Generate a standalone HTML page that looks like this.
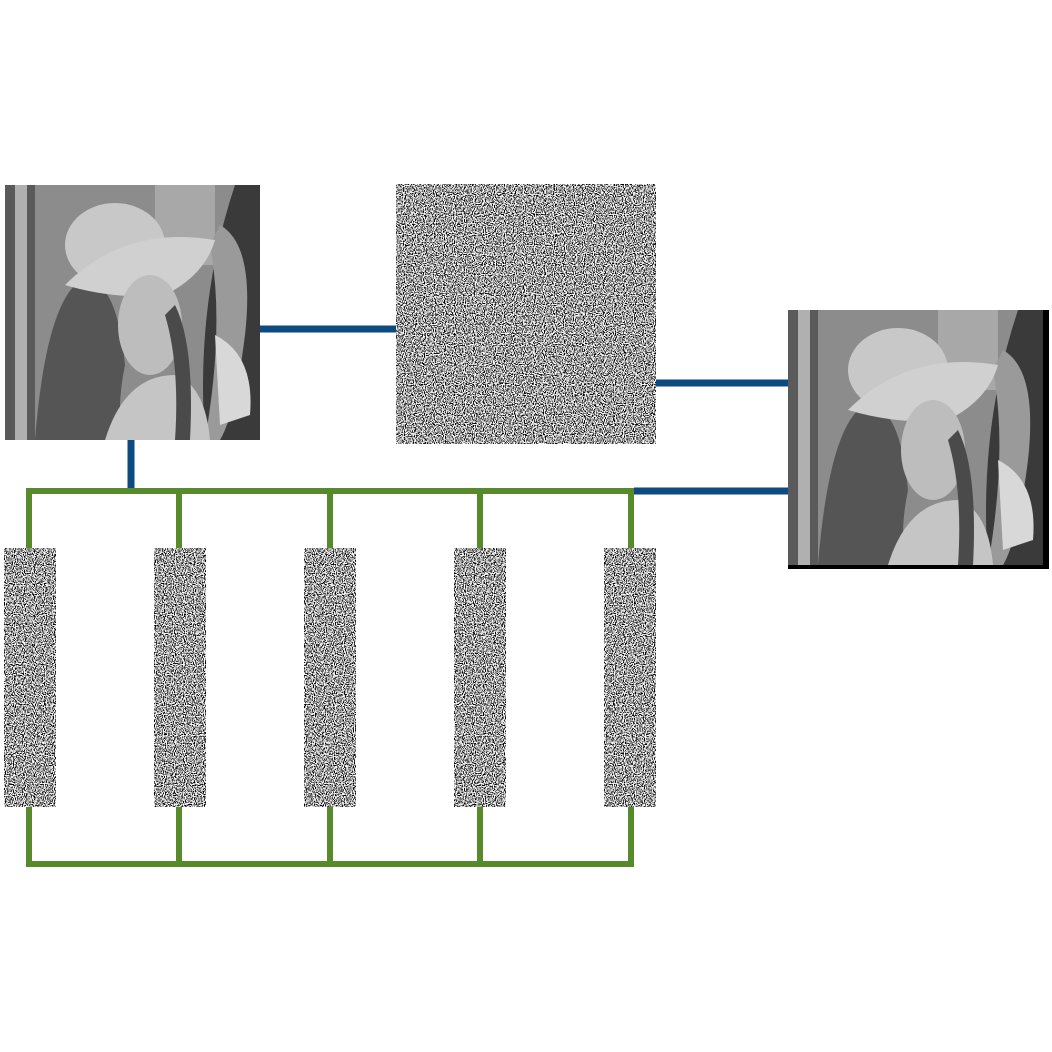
<!DOCTYPE html>
<html>
<head>
<meta charset="utf-8">
<style>
html,body{margin:0;padding:0;background:#fff;}
body{width:1052px;height:1052px;overflow:hidden;font-family:"Liberation Sans",sans-serif;}
svg{display:block;}
</style>
</head>
<body>
<svg width="1052" height="1052" viewBox="0 0 1052 1052">
<defs>
  <filter id="noise" x="0" y="0" width="100%" height="100%">
    <feTurbulence type="fractalNoise" baseFrequency="0.9" numOctaves="1" seed="3" result="t"/>
    <feColorMatrix type="matrix" values="7 0 0 0 -3  7 0 0 0 -3  7 0 0 0 -3  0 0 0 0 1"/>
  </filter>
  <g id="lena">
    <rect x="0" y="0" width="255" height="255" fill="#8c8c8c"/>
    <rect x="0" y="0" width="30" height="255" fill="#5a5a5a"/>
    <rect x="10" y="0" width="12" height="255" fill="#b0b0b0"/>
    <rect x="150" y="0" width="60" height="80" fill="#a8a8a8"/>
    <path d="M230 0 L255 0 L255 255 L200 255 Q190 120 230 0Z" fill="#3a3a3a"/>
    <path d="M215 40 Q250 60 240 150 Q230 230 215 255 L200 255 Q220 140 205 60Z" fill="#9a9a9a"/>
    <path d="M210 150 Q250 170 245 230 L215 240 Z" fill="#d8d8d8"/>
    <path d="M30 255 Q40 130 70 100 Q110 80 120 180 Q110 230 120 255Z" fill="#555"/>
    <ellipse cx="110" cy="60" rx="50" ry="42" fill="#c8c8c8"/>
    <path d="M60 100 Q120 40 210 55 Q200 90 160 110 Q110 115 60 100Z" fill="#d0d0d0"/>
    <ellipse cx="145" cy="140" rx="32" ry="50" fill="#bdbdbd"/>
    <path d="M100 255 Q120 190 170 190 Q200 200 205 255Z" fill="#c5c5c5"/>
    <path d="M170 120 Q190 160 185 255 L170 255 Q175 180 160 130Z" fill="#4a4a4a"/>
  </g>
</defs>

<g transform="translate(5,185)">
  <use href="#lena"/>
</g>

<g>
  <rect x="396" y="184" width="260" height="260" fill="#777"/>
  <rect x="396" y="184" width="260" height="260" filter="url(#noise)"/>
</g>

<g>
  <rect x="788" y="310" width="261" height="259" fill="#000"/>
  <g transform="translate(788,310) scale(1.0)"><use href="#lena"/></g>
</g>

<g stroke="#0d4a80" stroke-width="7" fill="none">
  <line x1="260" y1="329" x2="396" y2="329"/>
  <line x1="656" y1="383" x2="788" y2="383"/>
  <line x1="634" y1="491" x2="788" y2="491"/>
  <line x1="131" y1="440" x2="131" y2="491"/>
</g>

<g stroke="#568a2a" stroke-width="6" fill="none">
  <line x1="26" y1="491" x2="634" y2="491"/>
  <line x1="26" y1="864" x2="634" y2="864"/>
  <line x1="29" y1="491" x2="29" y2="548"/><line x1="29" y1="807" x2="29" y2="864"/>
  <line x1="179" y1="491" x2="179" y2="548"/><line x1="179" y1="807" x2="179" y2="864"/>
  <line x1="330" y1="491" x2="330" y2="548"/><line x1="330" y1="807" x2="330" y2="864"/>
  <line x1="480" y1="491" x2="480" y2="548"/><line x1="480" y1="807" x2="480" y2="864"/>
  <line x1="631" y1="491" x2="631" y2="548"/><line x1="631" y1="807" x2="631" y2="864"/>
</g>

<g><rect x="4" y="548" width="52" height="259" fill="#777"/><rect x="4" y="548" width="52" height="259" filter="url(#noise)"/></g>
<g><rect x="154" y="548" width="52" height="259" fill="#777"/><rect x="154" y="548" width="52" height="259" filter="url(#noise)"/></g>
<g><rect x="304" y="548" width="52" height="259" fill="#777"/><rect x="304" y="548" width="52" height="259" filter="url(#noise)"/></g>
<g><rect x="454" y="548" width="52" height="259" fill="#777"/><rect x="454" y="548" width="52" height="259" filter="url(#noise)"/></g>
<g><rect x="604" y="548" width="52" height="259" fill="#777"/><rect x="604" y="548" width="52" height="259" filter="url(#noise)"/></g>
</svg>
</body>
</html>
